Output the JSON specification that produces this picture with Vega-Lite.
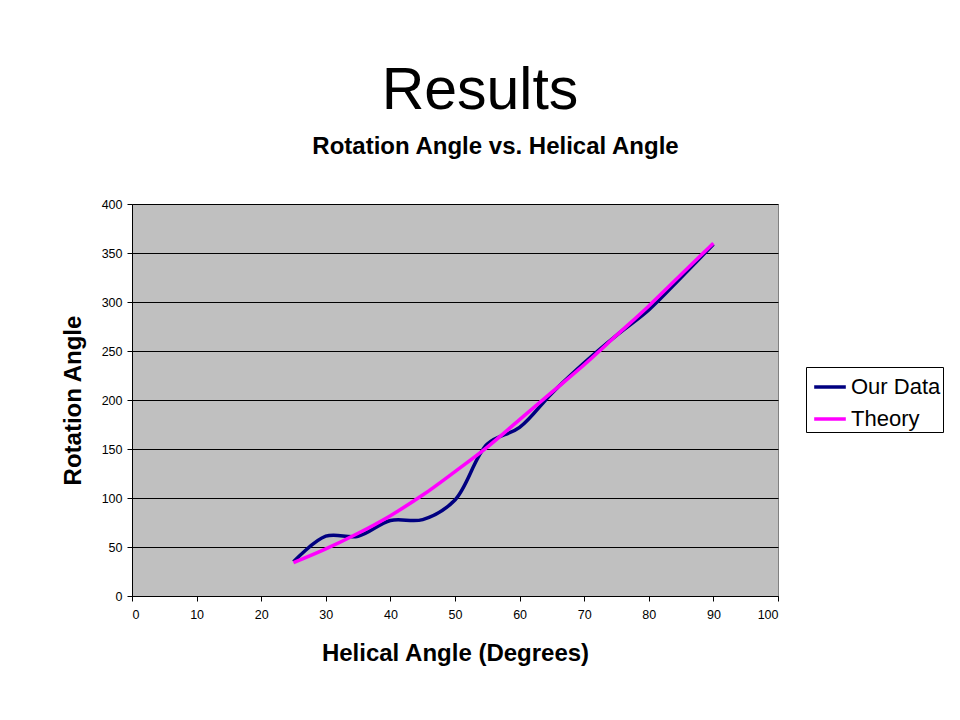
{
  "$schema": "https://vega.github.io/schema/vega-lite/v6.json",
  "width": 646,
  "height": 392,
  "autosize": "none",
  "padding": {"left": 132, "top": 204, "right": 182, "bottom": 124},
  "background": "white",
  "title": {
    "text": "Results",
    "font": "Liberation Sans",
    "fontSize": 59,
    "fontWeight": "normal",
    "color": "black",
    "anchor": "middle",
    "frame": "group",
    "dx": 25,
    "baseline": "alphabetic",
    "offset": -34
  },
  "data": {
    "values": [
      {"h": 25, "r": 35, "s": "Our Data"},
      {"h": 30, "r": 61, "s": "Our Data"},
      {"h": 35, "r": 61, "s": "Our Data"},
      {"h": 40, "r": 77, "s": "Our Data"},
      {"h": 45, "r": 78, "s": "Our Data"},
      {"h": 50, "r": 98, "s": "Our Data"},
      {"h": 55, "r": 155, "s": "Our Data"},
      {"h": 60, "r": 172, "s": "Our Data"},
      {"h": 65, "r": 207, "s": "Our Data"},
      {"h": 70, "r": 238, "s": "Our Data"},
      {"h": 75, "r": 266, "s": "Our Data"},
      {"h": 80, "r": 292, "s": "Our Data"},
      {"h": 85, "r": 325, "s": "Our Data"},
      {"h": 90, "r": 359, "s": "Our Data"},
      {"h": 25, "r": 34, "s": "Theory"},
      {"h": 30, "r": 48, "s": "Theory"},
      {"h": 35, "r": 64, "s": "Theory"},
      {"h": 40, "r": 82, "s": "Theory"},
      {"h": 45, "r": 103, "s": "Theory"},
      {"h": 50, "r": 127, "s": "Theory"},
      {"h": 55, "r": 152, "s": "Theory"},
      {"h": 60, "r": 180, "s": "Theory"},
      {"h": 65, "r": 208, "s": "Theory"},
      {"h": 70, "r": 236, "s": "Theory"},
      {"h": 75, "r": 266, "s": "Theory"},
      {"h": 80, "r": 296, "s": "Theory"},
      {"h": 85, "r": 328, "s": "Theory"},
      {"h": 90, "r": 360, "s": "Theory"}
    ]
  },
  "resolve": {"axis": {"x": "independent"}},
  "layer": [
    {
      "mark": {"type": "line", "strokeWidth": 3.5, "interpolate": "catmull-rom"},
      "encoding": {
        "x": {
          "field": "h", "type": "quantitative",
          "scale": {"domain": [0, 100], "nice": false},
          "axis": {
            "orient": "bottom",
            "values": [0, 10, 20, 30, 40, 50, 60, 70, 80, 90, 100],
            "grid": false,
            "title": "Helical Angle (Degrees)",
            "titleY": 64,
            "titleBaseline": "alphabetic",
            "titleFontSize": 24,
            "titleFontWeight": "bold",
            "labelPadding": 7
          }
        },
        "y": {
          "field": "r", "type": "quantitative",
          "scale": {"domain": [0, 400], "nice": false},
          "axis": {
            "values": [0, 50, 100, 150, 200, 250, 300, 350, 400],
            "grid": true,
            "title": "Rotation Angle",
            "titleAngle": -90,
            "titleX": -52,
            "titleY": 196,
            "titleAlign": "center",
            "titleBaseline": "alphabetic",
            "titleFontSize": 24,
            "titleFontWeight": "bold",
            "labelPadding": 5
          }
        },
        "color": {
          "field": "s", "type": "nominal",
          "scale": {"domain": ["Our Data", "Theory"], "range": ["#000080", "#FF00FF"]},
          "legend": {
            "title": null,
            "orient": "none",
            "legendX": 674,
            "legendY": 163,
            "fillColor": "white",
            "strokeColor": "black",
            "padding": 2,
            "symbolType": "stroke",
            "symbolSize": 1000,
            "symbolStrokeWidth": 3.5,
            "symbolOffset": 4,
            "labelFontSize": 22,
            "labelFont": "Liberation Sans",
            "labelColor": "black",
            "labelOffset": 3,
            "rowPadding": 3
          }
        }
      }
    },
    {
      "mark": {"type": "line", "opacity": 0},
      "encoding": {
        "x": {
          "field": "h", "type": "quantitative",
          "axis": {
            "orient": "top",
            "labels": false,
            "ticks": false,
            "domain": false,
            "grid": false,
            "title": "Rotation Angle vs. Helical Angle",
            "titleX": 363,
            "titleY": -51,
            "titleAlign": "center",
            "titleBaseline": "alphabetic",
            "titleFontSize": 24,
            "titleFontWeight": "bold"
          }
        },
        "y": {"field": "r", "type": "quantitative"}
      }
    }
  ],
  "config": {
    "view": {"fill": "#C0C0C0", "stroke": "#808080", "strokeWidth": 1},
    "axis": {
      "labelFont": "Liberation Sans",
      "titleFont": "Liberation Sans",
      "labelFontSize": 12.5,
      "labelColor": "black",
      "titleColor": "black",
      "domainColor": "black",
      "tickColor": "black",
      "tickSize": 5,
      "gridColor": "black",
      "gridOpacity": 1,
      "gridWidth": 1
    }
  }
}
